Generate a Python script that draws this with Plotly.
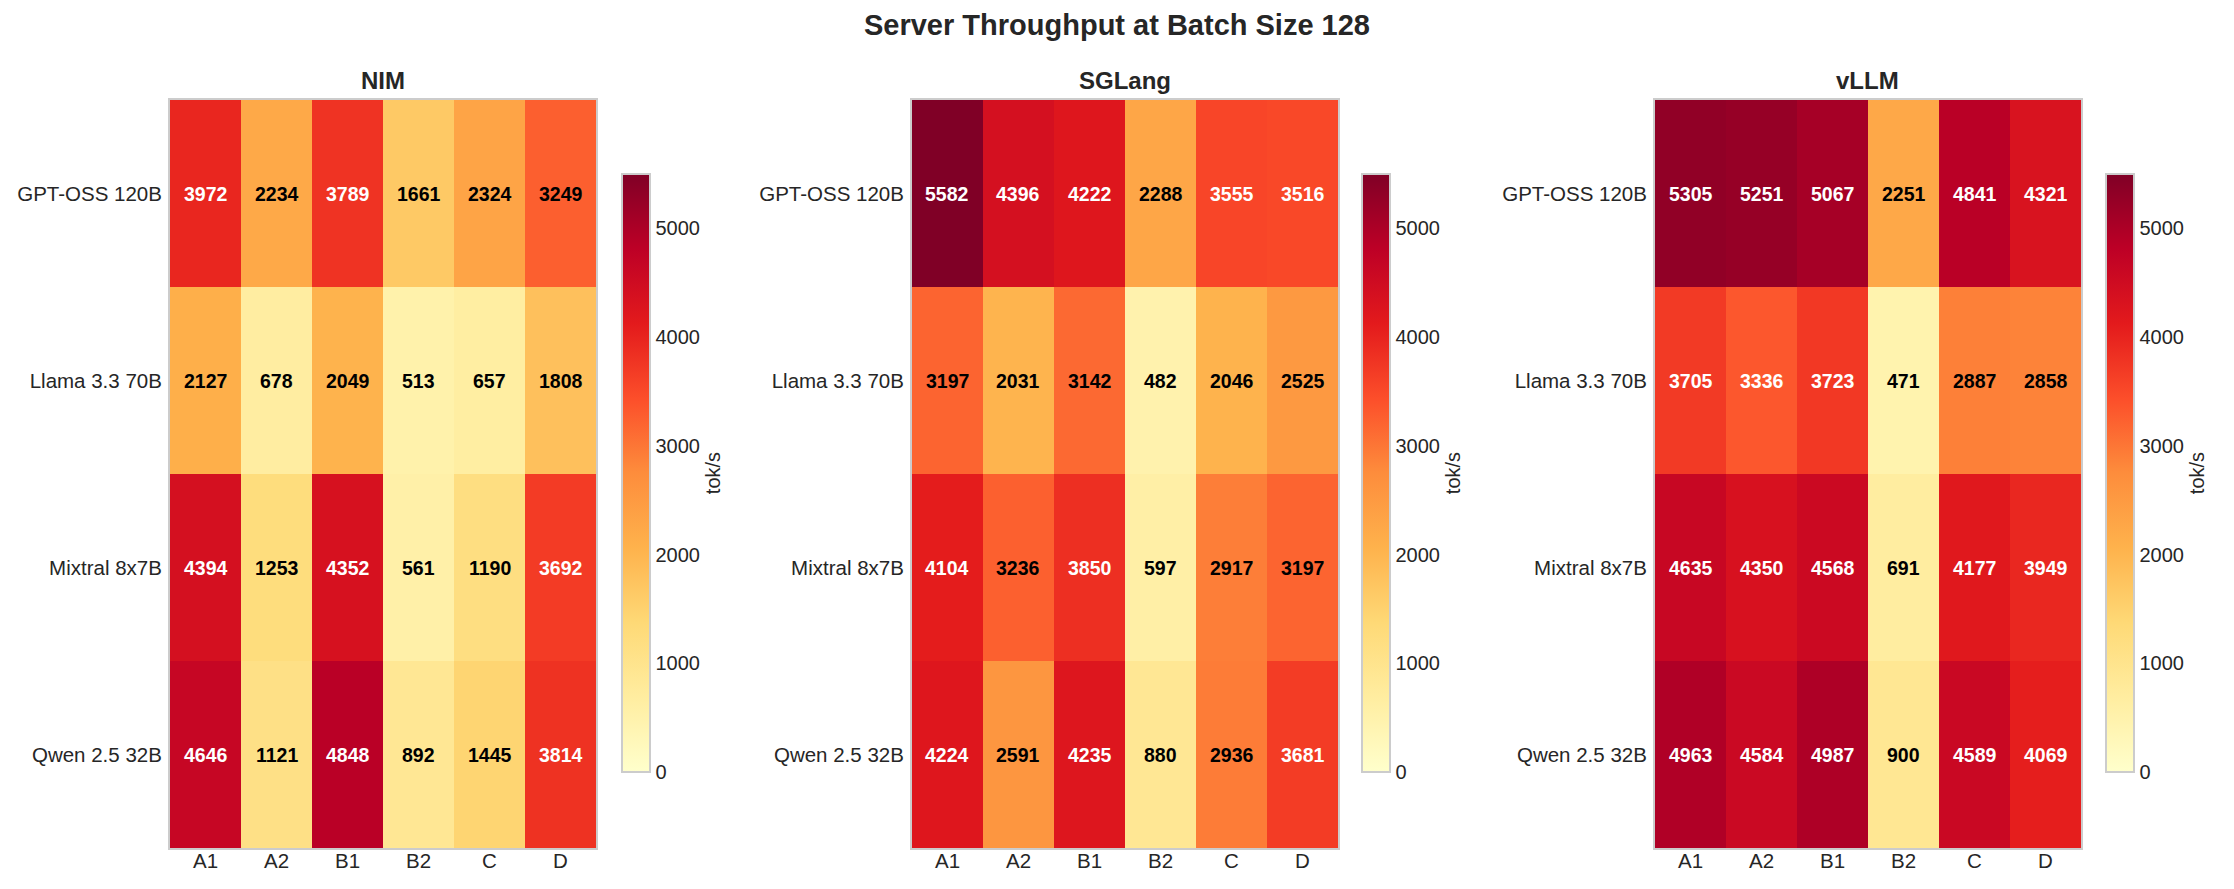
import plotly.graph_objects as go

models = ["GPT-OSS 120B", "Llama 3.3 70B", "Mixtral 8x7B", "Qwen 2.5 32B"]
configs = ["A1", "A2", "B1", "B2", "C", "D"]
panel_titles = ["NIM", "SGLang", "vLLM"]

nim = [
    [3972, 2234, 3789, 1661, 2324, 3249],
    [2127, 678, 2049, 513, 657, 1808],
    [4394, 1253, 4352, 561, 1190, 3692],
    [4646, 1121, 4848, 892, 1445, 3814],
]
sglang = [
    [5582, 4396, 4222, 2288, 3555, 3516],
    [3197, 2031, 3142, 482, 2046, 2525],
    [4104, 3236, 3850, 597, 2917, 3197],
    [4224, 2591, 4235, 880, 2936, 3681],
]
vllm = [
    [5305, 5251, 5067, 2251, 4841, 4321],
    [3705, 3336, 3723, 471, 2887, 2858],
    [4635, 4350, 4568, 691, 4177, 3949],
    [4963, 4584, 4987, 900, 4589, 4069],
]
panels = [nim, sglang, vllm]

colorbar_ticks = [0, 1000, 2000, 3000, 4000, 5000]
colorbar_title = "tok/s"
main_title = "Server Throughput at Batch Size 128"

# the page body has an 8px default margin; size the figure so it fills the window
OFF = 8
W, H = 2234 - OFF, 889 - OFF
ZMIN, ZMAX = 0, 5500
FONT = "Liberation Sans, Arial, Helvetica, sans-serif"
TXT = "#262626"

# pixel layout (window coordinates, converted to figure coordinates below)
heat_left = [170, 912, 1655]
heat_w = 426
heat_top, heat_bot = 100, 848
cb_left = [622, 1362, 2106]
cb_top, cb_bot = 174, 772


def px(v):
    return (v - OFF) / W


def py(v):
    return 1 - (v - OFF) / H


fig = go.Figure()
annotations = []

for i, (data, name) in enumerate(zip(panels, panel_titles)):
    ax = "" if i == 0 else str(i + 1)
    x0 = px(heat_left[i])
    x1 = px(heat_left[i] + heat_w)
    fig.add_trace(go.Heatmap(
        z=data, x=configs, y=models,
        xaxis="x" + ax, yaxis="y" + ax,
        colorscale="YlOrRd", zmin=ZMIN, zmax=ZMAX,
        hoverinfo="skip",
        colorbar=dict(
            x=px(cb_left[i]), xanchor="left", xpad=0, ypad=0,
            y=py((cb_top + cb_bot) / 2), yanchor="middle",
            len=(cb_bot - cb_top) / H, lenmode="fraction",
            thickness=28, thicknessmode="pixels",
            outlinecolor="#cccccc", outlinewidth=2,
            tickvals=colorbar_ticks, ticks="", ticklen=0,
            tickfont=dict(family=FONT, size=20, color=TXT),
            title=dict(text=colorbar_title, side="right",
                       font=dict(family=FONT, size=20, color=TXT)),
        ),
    ))
    axis_common = dict(showgrid=False, zeroline=False, ticks="", ticklen=0,
                       showline=True, mirror=True, linecolor="#cccccc", linewidth=2,
                       tickfont=dict(family=FONT, size=20.5, color=TXT))
    fig.update_layout(**{
        "xaxis" + ax: dict(domain=[x0, x1], anchor="y" + ax, type="category",
                           ticklabelstandoff=-7, **axis_common),
        "yaxis" + ax: dict(domain=[py(heat_bot), py(heat_top)], anchor="x" + ax,
                           type="category", autorange="reversed",
                           ticklabelstandoff=2, **axis_common),
    })
    annotations.append(dict(
        text="<b>%s</b>" % name, xref="paper", yref="paper",
        x=(x0 + x1) / 2, y=py(80), xanchor="center", yanchor="middle",
        showarrow=False, font=dict(family=FONT, size=24, color=TXT)))
    for r, m in enumerate(models):
        for c, cfg in enumerate(configs):
            v = data[r][c]
            annotations.append(dict(
                text="<b>%d</b>" % v, x=cfg, y=m,
                xref="x" + ax, yref="y" + ax, showarrow=False,
                font=dict(family=FONT, size=19.5,
                          color="white" if v > 0.6 * ZMAX else "black")))

fig.update_layout(
    width=W, height=H, autosize=False,
    margin=dict(l=0, r=0, t=0, b=0),
    paper_bgcolor="white", plot_bgcolor="white",
    title=dict(text="<b>%s</b>" % main_title, x=px(1117), xanchor="center",
               y=py(25), yanchor="middle",
               font=dict(family=FONT, size=29, color=TXT)),
    annotations=annotations,
    showlegend=False,
)

fig.write_html("out.html")
